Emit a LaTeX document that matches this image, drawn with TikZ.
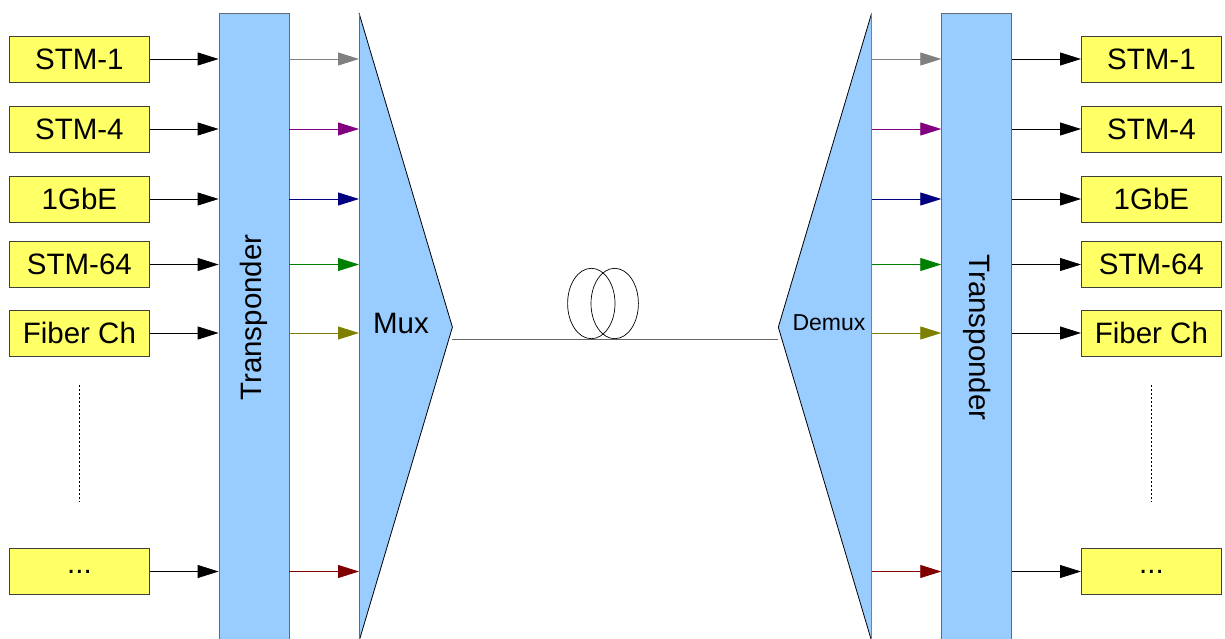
\documentclass[tikz,border=0pt]{standalone}
\usepackage{fontspec}
\setmainfont{Liberation Sans}
\usetikzlibrary{arrows.meta}
\definecolor{ybox}{HTML}{FFFF66}
\definecolor{bbox}{HTML}{99CCFF}
\definecolor{bedge}{HTML}{5F6B78}
\definecolor{yedge}{HTML}{40403A}
\definecolor{cgray}{HTML}{808080}
\definecolor{cpurple}{HTML}{800080}
\definecolor{cnavy}{HTML}{000080}
\definecolor{cgreen}{HTML}{008000}
\definecolor{colive}{HTML}{808000}
\definecolor{cmaroon}{HTML}{800000}
\tikzset{
  sigbox/.style={draw=yedge, fill=ybox, line width=0.8pt, minimum width=140pt, minimum height=46pt, inner sep=0pt, font=\fontsize{29.5}{34}\selectfont},
  tpbox/.style={draw=bedge, fill=bbox, line width=0.8pt, minimum width=70pt, minimum height=632pt, anchor=north, inner sep=0pt},
  muxarea/.style={minimum width=93pt, minimum height=628pt, inner sep=0pt},
  sig/.style={line width=0.8pt, -{Triangle[length=21pt,width=13pt]}},
  bigtext/.style={font=\fontsize{29.5}{34}\selectfont, inner sep=0pt},
  dots/.style={line width=0.7pt, dash pattern=on 2pt off 2pt}
}
\begin{document}
\begin{tikzpicture}[x=1pt,y=-1pt]
\useasboundingbox (0,0) rectangle (1225,639);
\clip (0,0) rectangle (1225,639);
% transponders
\node[tpbox] (tl) at (254,13) {};
\node[tpbox] (tr) at (976.7,13) {};
\node[bigtext, rotate=90] (tlt) at (254,317.5) {Transponder};
\node[bigtext, rotate=-90] (trt) at (976.7,337.5) {Transponder};
% mux / demux areas
\node[muxarea, anchor=north west] (mux) at (359,13) {};
\node[muxarea, anchor=north east] (demux) at (871.7,13) {};
\fill[bbox] (mux.north west) -- (mux.east) -- (mux.south west) -- cycle;
\draw[line width=0.8pt] (mux.north west) -- (mux.east) -- (mux.south west);
\draw[bedge, line width=0.8pt] (mux.north west) -- (mux.south west);
\fill[bbox] (demux.north east) -- (demux.west) -- (demux.south east) -- cycle;
\draw[line width=0.8pt] (demux.north east) -- (demux.west) -- (demux.south east);
\draw[cgray, line width=0.8pt] (demux.north east) -- (demux.south east);
\node[bigtext] (muxt) at (401,323) {Mux};
\node[font=\fontsize{23}{27}\selectfont, inner sep=0pt] (demuxt) at (829,323) {Demux};
% fiber
\draw[cgray!80!black, line width=1pt] ([yshift=-12pt]mux.east) -- ([yshift=-12pt]demux.west);
\draw[line width=0.7pt] (591.3,303.5) ellipse [x radius=23.7, y radius=35.2];
\draw[line width=0.7pt] (614.7,303.5) ellipse [x radius=23.7, y radius=35.2];
% left boxes
\node[sigbox] (l1) at (79.4,59) {STM-1};
\node[sigbox] (l2) at (79.4,129) {STM-4};
\node[sigbox] (l3) at (79.4,199) {1GbE};
\node[sigbox] (l4) at (79.4,264.5) {STM-64};
\node[sigbox] (l5) at (79.4,333) {Fiber Ch};
\node[sigbox] (l6) at (79.4,571.5) {...};
% right boxes
\node[sigbox] (r1) at (1151.4,59) {STM-1};
\node[sigbox] (r2) at (1151.4,129) {STM-4};
\node[sigbox] (r3) at (1151.4,199) {1GbE};
\node[sigbox] (r4) at (1151.4,264.5) {STM-64};
\node[sigbox] (r5) at (1151.4,333) {Fiber Ch};
\node[sigbox] (r6) at (1151.4,571.5) {...};
% arrows
\foreach \i/\c in {1/cgray,2/cpurple,3/cnavy,4/cgreen,5/colive,6/cmaroon}{
  \draw[sig] (l\i.east) -- (tl.west |- l\i.east);
  \draw[sig, \c] (tl.east |- l\i.east) -- (mux.west |- l\i.east);
  \draw[sig, \c] (demux.east |- r\i.west) -- (tr.west |- r\i.west);
  \draw[sig] (tr.east |- r\i.west) -- (r\i.west);
}
% dotted continuation
\coordinate (dla) at (79.3,385);
\coordinate (dlb) at (79.3,501.7);
\coordinate (dra) at (1151.7,385);
\coordinate (drb) at (1151.7,501.7);
\draw[dots] (dla) -- (dlb);
\draw[dots] (dra) -- (drb);
\end{tikzpicture}
\end{document}
